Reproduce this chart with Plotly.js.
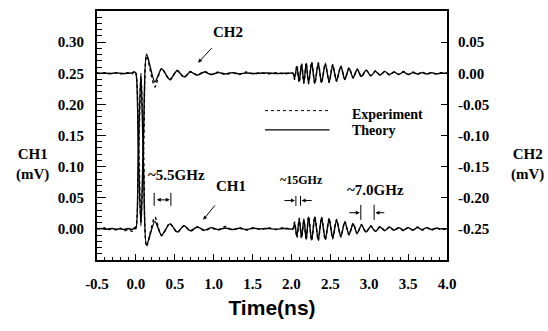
<!DOCTYPE html>
<html>
<head>
<meta charset="utf-8">
<script src="https://cdn.plot.ly/plotly-3.0.1.min.js"></script>
<style>html,body{margin:0;padding:0;background:#fff;}#chart{width:548px;height:331px;}</style>
</head>
<body>
<div id="chart"></div>
<script>
// ---- data ----
var time_ns = [
  -0.5,-0.45,-0.4,-0.35,-0.3,-0.25,-0.2,-0.15,-0.1,-0.05,-0.02,0,
  0.03,0.065,0.1,0.137,
  0.244,0.33,0.437,0.53,0.62,0.70,0.79,0.88,0.97,1.06,1.15,1.24,1.33,1.42,1.51,1.6,1.7,1.8,1.9,1.97,
  2.02,2.04,2.07,2.10,2.13,2.16,2.19,2.22,2.26,2.30,2.345,2.387,2.435,2.485,2.53,2.58,2.635,2.686,2.74,2.793,
  2.845,2.90,2.96,3.02,3.08,3.14,3.20,3.26,3.32,3.38,3.44,3.50,3.56,3.62,3.68,3.74,3.80,3.86,3.92,4.0
];
var ch1_theory = [
  0,0.0005,-0.0005,0,0.0005,-0.0005,0,-0.001,0.0005,-0.001,0.001,0,
  0.12,0.25,0.09,-0.026,
  0.012,-0.010,0.008,-0.005,0.005,-0.003,0.003,-0.002,0.002,-0.001,0.0015,-0.001,0.001,-0.001,0.001,0,0.0005,-0.0005,0.0005,0,
  0,0.009,-0.012,0.015,-0.014,0.016,-0.017,0.019,-0.018,0.019,-0.018,0.018,-0.017,0.016,-0.015,0.014,-0.012,0.011,-0.009,0.008,
  -0.007,0.006,-0.005,0.004,-0.004,0.003,-0.003,0.003,-0.002,0.002,-0.002,0.002,-0.002,0.002,-0.001,0.002,-0.001,0.001,0,0
];
var ch1_experiment = [
  0.001,-0.001,0.002,-0.001,0,-0.002,0.001,-0.003,-0.001,-0.004,0.002,0.003,
  0.09,0.245,0.12,-0.028,
  0.019,-0.011,0.009,-0.006,0.005,-0.004,0.003,-0.003,0.001,-0.002,0.004,-0.002,0.002,-0.002,0.002,-0.001,0.002,-0.001,0.002,0,
  0,0.011,-0.014,0.017,-0.015,0.013,-0.018,0.020,-0.019,0.020,-0.019,0.019,-0.018,0.017,-0.016,0.015,-0.013,0.012,-0.010,0.009,
  -0.008,0.007,-0.006,0.005,-0.004,0.004,-0.003,0.003,-0.003,0.002,-0.003,0.002,-0.002,0.003,-0.002,0.002,-0.002,0.002,-0.001,0
];
var ch2_theory = [
  0,0,0.0005,-0.0005,0,0.0005,0,-0.0005,0,0.0005,0.002,0,
  -0.12,-0.245,-0.09,0.031,
  -0.014,0.007,-0.010,0.004,-0.006,0.002,-0.003,0.002,-0.002,0.001,-0.001,0.001,-0.001,0.0005,-0.0005,0,0.0005,-0.0005,0,0,
  0,-0.008,0.011,-0.013,0.014,-0.015,0.016,-0.016,0.017,-0.016,0.016,-0.015,0.015,-0.014,0.013,-0.012,0.011,-0.010,0.008,-0.007,
  0.006,-0.005,0.005,-0.004,0.003,-0.003,0.003,-0.002,0.002,-0.002,0.002,-0.002,0.001,-0.001,0.001,-0.001,0.001,-0.001,0,0
];
var ch2_experiment = [
  0.001,-0.001,0.001,0,-0.001,0.001,-0.001,0,0.001,-0.001,0.003,0.001,
  -0.08,-0.24,-0.12,0.028,
  -0.022,0.008,-0.011,0.005,-0.007,0.003,-0.003,0.003,-0.002,0.002,-0.002,0.001,-0.002,0.002,-0.001,0.001,-0.001,0.001,-0.001,0,
  0,-0.010,0.013,-0.015,0.016,-0.016,0.017,-0.017,0.018,-0.017,0.017,-0.016,0.016,-0.015,0.014,-0.013,0.012,-0.010,0.009,-0.008,
  0.007,-0.006,0.005,-0.004,0.004,-0.003,0.003,-0.003,0.002,-0.002,0.003,-0.002,0.002,-0.002,0.002,-0.002,0.001,-0.001,0.001,0
];
var x_tick_vals = [-0.5,0,0.5,1,1.5,2,2.5,3,3.5,4];
var x_tick_text = ['-0.5','0.0','0.5','1.0','1.5','2.0','2.5','3.0','3.5','4.0'];
var y1_tick_vals = [0,0.05,0.1,0.15,0.2,0.25,0.3];
var y1_tick_text = ['0.00','0.05','0.10','0.15','0.20','0.25','0.30'];
var y2_tick_vals = [-0.25,-0.2,-0.15,-0.1,-0.05,0,0.05];
var y2_tick_text = ['-0.25','-0.20','-0.15','-0.10','-0.05','0.00','0.05'];
var legend_labels = ['Experiment','Theory'];

// ---- styles ----
function f(sz){return {family:'Liberation Serif', size:sz, color:'#000', weight:'bold'};}
var lw = 1.4;
var sm = 0.7;

var traces = [
  {x:time_ns, y:ch1_experiment, yaxis:'y', mode:'lines', line:{color:'#000', width:lw, dash:'dot', shape:'spline', smoothing:sm}, name:legend_labels[0], showlegend:false, hoverinfo:'skip'},
  {x:time_ns, y:ch1_theory, yaxis:'y', mode:'lines', line:{color:'#000', width:lw, shape:'spline', smoothing:sm}, name:legend_labels[1], showlegend:false, hoverinfo:'skip'},
  {x:time_ns, y:ch2_experiment, yaxis:'y2', mode:'lines', line:{color:'#000', width:lw, dash:'dot', shape:'spline', smoothing:sm}, name:legend_labels[0], showlegend:false, hoverinfo:'skip'},
  {x:time_ns, y:ch2_theory, yaxis:'y2', mode:'lines', line:{color:'#000', width:lw, shape:'spline', smoothing:sm}, name:legend_labels[1], showlegend:false, hoverinfo:'skip'}
];

function arrow(x, y, ax, ay, side){
  return {x:x, y:y, ax:ax, ay:ay, xref:'x', yref:'y', axref:'x', ayref:'y', text:'', showarrow:true,
          arrowhead:2, arrowsize:0.8, arrowwidth:1, arrowcolor:'#000', arrowside:side||'end'};
}
function bar(x, y0, y1){
  return {type:'line', xref:'x', yref:'y', x0:x, x1:x, y0:y0, y1:y1, line:{color:'#000', width:1}};
}

var annotations = [
  {xref:'paper', yref:'paper', x:-0.183, y:0.385, xanchor:'center', yanchor:'middle', text:'CH1<br>(mV)', showarrow:false, font:f(15), align:'center'},
  {xref:'paper', yref:'paper', x:1.231, y:0.385, xanchor:'center', yanchor:'middle', text:'CH2<br>(mV)', showarrow:false, font:f(15), align:'center'},
  {xref:'x', yref:'y', x:1.19, y:0.317, xanchor:'center', text:'CH2', showarrow:false, font:f(15)},
  {x:0.80, y:0.267, xref:'x', yref:'y', ax:15, ay:-16, text:'', showarrow:true, arrowhead:2, arrowsize:0.8, arrowwidth:1, arrowcolor:'#000'},
  {xref:'x', yref:'y', x:1.22, y:0.069, xanchor:'center', text:'CH1', showarrow:false, font:f(15)},
  {x:0.865, y:0.0145, xref:'x', yref:'y', ax:13, ay:-16, text:'', showarrow:true, arrowhead:2, arrowsize:0.8, arrowwidth:1, arrowcolor:'#000'},
  {xref:'x', yref:'y', x:0.527, y:0.087, xanchor:'center', text:'~5.5GHz', showarrow:false, font:f(15)},
  arrow(0.435, 0.0466, 0.25, 0.0466, 'end+start'),
  {xref:'x', yref:'y', x:2.134, y:0.078, xanchor:'center', text:'~15GHz', showarrow:false, font:f(12)},
  arrow(2.045, 0.0455, 1.89, 0.0455),
  arrow(2.13, 0.0455, 2.28, 0.0455),
  {xref:'x', yref:'y', x:3.085, y:0.0627, xanchor:'center', text:'~7.0GHz', showarrow:false, font:f(15)},
  arrow(2.878, 0.026, 2.725, 0.026),
  arrow(3.08, 0.026, 3.213, 0.026),
  {xref:'x', yref:'y', x:2.75, y:0.184, xanchor:'left', text:legend_labels[0], showarrow:false, font:f(14)},
  {xref:'x', yref:'y', x:2.75, y:0.158, xanchor:'left', text:legend_labels[1], showarrow:false, font:f(14)}
];

var shapes = [
  bar(0.235, 0.058, 0.037), bar(0.45, 0.058, 0.037),
  bar(2.057, 0.053, 0.037), bar(2.117, 0.053, 0.037),
  bar(2.892, 0.0386, 0.0145), bar(3.063, 0.0386, 0.0145),
  {type:'line', xref:'x', yref:'y', x0:1.66, x1:2.49, y0:0.19, y1:0.19, line:{color:'#000', width:1, dash:'dot'}},
  {type:'line', xref:'x', yref:'y', x0:1.66, x1:2.49, y0:0.159, y1:0.159, line:{color:'#000', width:1.2}}
];

var layout = {
  width:548, height:331,
  margin:{l:97, r:101, t:11, b:71, pad:0},
  paper_bgcolor:'#fff', plot_bgcolor:'#fff',
  showlegend:false,
  xaxis:{range:[-0.5,4.0], tickmode:'array', tickvals:x_tick_vals, ticktext:x_tick_text,
         ticks:'inside', ticklen:6, tickwidth:1, tickcolor:'#000',
         minor:{tickmode:'linear', tick0:0, dtick:0.1, ticks:'inside', ticklen:3, tickwidth:1, tickcolor:'#000', showgrid:false},
         showline:true, linewidth:2, linecolor:'#000', mirror:true, showgrid:false, zeroline:false,
         tickfont:f(15), ticklabelstandoff:9,
         title:{text:'Time(ns)', font:{family:'Liberation Sans', size:21, color:'#000', weight:'bold'}, standoff:9}},
  yaxis:{range:[-0.05,0.35], tickmode:'array', tickvals:y1_tick_vals, ticktext:y1_tick_text,
         ticks:'inside', ticklen:9, tickwidth:1, tickcolor:'#000',
         minor:{tickmode:'linear', tick0:0, dtick:0.01, ticks:'inside', ticklen:5, tickwidth:1, tickcolor:'#000', showgrid:false},
         showline:true, linewidth:2, linecolor:'#000', showgrid:false, zeroline:false,
         tickfont:f(15), ticklabelstandoff:8},
  yaxis2:{range:[-0.30,0.10], overlaying:'y', side:'right', tickmode:'array', tickvals:y2_tick_vals, ticktext:y2_tick_text,
         ticks:'inside', ticklen:6, tickwidth:1, tickcolor:'#000',
         showline:true, linewidth:2, linecolor:'#000', showgrid:false, zeroline:false,
         tickfont:f(15), ticklabelstandoff:6},
  annotations:annotations,
  shapes:shapes
};

Plotly.newPlot('chart', traces, layout, {displayModeBar:false, staticPlot:true});
</script>
</body>
</html>
